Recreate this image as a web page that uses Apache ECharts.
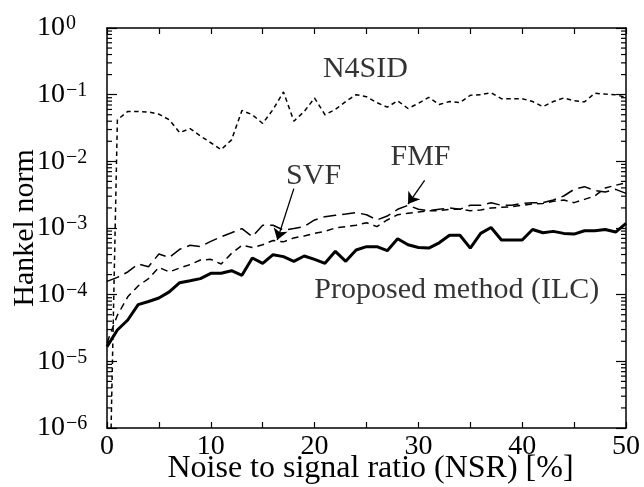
<!DOCTYPE html>
<html><head><meta charset="utf-8">
<script src="https://cdn.jsdelivr.net/npm/echarts@6/dist/echarts.min.js"></script>
<style>html,body{margin:0;padding:0;background:#fff}#c{width:644px;height:487px}</style>
</head><body><div id="c"></div>
<script>
// ---- data ----
const nsr = [0,1,2,3,4,5,6,7,8,9,10,11,12,13,14,15,16,17,18,19,20,21,22,23,24,25,26,27,28,29,30,31,32,33,34,35,36,37,38,39,40,41,42,43,44,45,46,47,48,49,50];
const n4sid = [1e-9, 4.2e-2, 5.6e-2, 5.6e-2, 5.5e-2, 5.1e-2, 4.2e-2, 2.7e-2, 3.1e-2, 2.4e-2,
  1.9e-2, 1.5e-2, 2.1e-2, 5.8e-2, 5.0e-2, 3.7e-2, 6.0e-2, 1.1e-1, 4.0e-2, 5.6e-2,
  8.9e-2, 5.0e-2, 6.0e-2, 7.9e-2, 1.0e-1, 9.3e-2, 7.6e-2, 6.5e-2, 8.1e-2, 6.2e-2,
  7.4e-2, 9.1e-2, 7.1e-2, 7.9e-2, 7.6e-2, 9.8e-2, 1.0e-1, 1.07e-1, 8.7e-2, 8.7e-2,
  8.7e-2, 7.9e-2, 6.6e-2, 7.9e-2, 8.9e-2, 8.1e-2, 7.8e-2, 1.05e-1, 1.02e-1, 1.0e-1,
  9.1e-2];
const svf = [1.9e-5, 4.9e-5, 9.3e-5, 1.35e-4, 1.74e-4, 2.57e-4, 2.19e-4, 2.51e-4, 2.82e-4, 3.31e-4,
  3.39e-4, 2.88e-4, 4.17e-4, 5.5e-4, 5.1e-4, 5.6e-4, 6.5e-4, 6.2e-4, 7.1e-4, 7.6e-4,
  8.3e-4, 8.9e-4, 1.0e-3, 1.05e-3, 1.10e-3, 1.20e-3, 1.05e-3, 1.32e-3, 1.58e-3, 1.66e-3,
  1.74e-3, 1.82e-3, 1.82e-3, 1.91e-3, 1.91e-3, 1.82e-3, 1.86e-3, 2.0e-3, 2.04e-3, 2.09e-3,
  2.19e-3, 2.29e-3, 2.34e-3, 2.51e-3, 2.63e-3, 2.40e-3, 2.69e-3, 3.02e-3, 3.98e-3, 4.37e-3,
  4.79e-3];
const fmf = [1.58e-4, 1.82e-4, 2.19e-4, 2.88e-4, 2.63e-4, 4.07e-4, 3.63e-4, 4.79e-4, 5.5e-4, 5.25e-4,
  6.3e-4, 7.4e-4, 8.5e-4, 9.8e-4, 7.4e-4, 1.10e-3, 1.10e-3, 9.3e-4, 9.8e-4, 1.05e-3,
  1.32e-3, 1.48e-3, 1.55e-3, 1.62e-3, 1.70e-3, 1.58e-3, 1.32e-3, 1.51e-3, 1.91e-3, 2.19e-3,
  1.91e-3, 1.82e-3, 1.91e-3, 2.0e-3, 1.91e-3, 2.19e-3, 2.19e-3, 2.40e-3, 2.19e-3, 2.19e-3,
  2.34e-3, 2.40e-3, 2.40e-3, 2.63e-3, 3.02e-3, 3.80e-3, 4.17e-3, 3.63e-3, 3.47e-3, 3.80e-3,
  3.31e-3];
const proposed = [1.66e-5, 2.95e-5, 4.17e-5, 7.1e-5, 7.9e-5, 8.9e-5, 1.10e-4, 1.51e-4, 1.62e-4, 1.74e-4,
  2.09e-4, 2.09e-4, 2.29e-4, 1.95e-4, 3.55e-4, 2.95e-4, 3.98e-4, 3.72e-4, 3.16e-4, 3.80e-4,
  3.39e-4, 2.95e-4, 4.47e-4, 3.16e-4, 4.68e-4, 5.25e-4, 5.25e-4, 4.57e-4, 6.9e-4, 5.6e-4,
  5.1e-4, 5.0e-4, 6.0e-4, 7.8e-4, 7.8e-4, 5.0e-4, 8.3e-4, 1.02e-3, 6.6e-4, 6.6e-4,
  6.6e-4, 9.5e-4, 8.5e-4, 8.9e-4, 8.3e-4, 8.1e-4, 9.1e-4, 9.1e-4, 9.5e-4, 8.7e-4,
  1.17e-3];
const yExponents = [0, -1, -2, -3, -4, -5, -6];
const xLabelValues = [0, 10, 20, 30, 40, 50];
const annotationText = ['N4SID', 'SVF', 'FMF', 'Proposed method (ILC)'];
const annotationX = [24.9, 19.9, 30.2, 33.7];
const annotationY = [0.24, 5.9e-3, 1.17e-2, 1.18e-4];
const arrowFrom = [[18.0, 3.9e-3], [30.6, 5.2e-3]];
const arrowTo = [[16.4, 6.6e-4], [29.0, 2.29e-3]];

// minor tick values of the log axis (2..9 in each decade)
const minorTicks = [];
for (let e = -6; e < 0; e++) for (let m = 2; m <= 9; m++) minorTicks.push(m * Math.pow(10, e));

const FONT = 'Liberation Serif';
const black = '#000';
const pair = arr => nsr.map((x, i) => [x, arr[i]]);

const axisLineStyle = { show: true, onZero: false, lineStyle: { color: black, width: 1.5 } };

const chart = echarts.init(document.getElementById('c'), null, { renderer: 'canvas' });
chart.setOption({
  backgroundColor: '#fff',
  animation: false,
  grid: { left: 107, right: 18, top: 28, bottom: 59, containLabel: false, outerBoundsMode: 'none' },
  xAxis: [{
    type: 'value', min: 0, max: 50, interval: 5, position: 'bottom',
    axisLine: axisLineStyle,
    axisTick: { inside: true, length: 6, lineStyle: { color: black, width: 1.2 } },
    axisLabel: {
      margin: 5, color: black, fontFamily: FONT, fontSize: 28,
      formatter: v => xLabelValues.indexOf(v) >= 0 ? String(v) : ''
    },
    splitLine: { show: false },
    name: 'Noise to signal ratio (NSR) [%]', nameLocation: 'middle', nameGap: 25,
    nameMoveOverlap: false,
    nameTextStyle: { color: black, fontFamily: FONT, fontSize: 32, padding: [0, 0, 0, 8] }
  }, {
    type: 'value', min: 0, max: 50, interval: 5, position: 'top',
    axisLine: axisLineStyle,
    axisTick: { inside: true, length: 6, lineStyle: { color: black, width: 1.2 } },
    axisLabel: { show: false }, splitLine: { show: false }
  }],
  yAxis: [{
    type: 'log', logBase: 10, min: 1e-6, max: 1, splitNumber: 6, position: 'left',
    axisLine: axisLineStyle,
    axisTick: { inside: true, length: 10, lineStyle: { color: black, width: 1.2 } },
    axisLabel: {
      margin: 70, align: 'left',
      formatter: v => {
        const e = Math.round(Math.log10(v));
        if (yExponents.indexOf(e) < 0) return '';
        return '{b|10}{s|' + (e === 0 ? '0' : '\u2212' + (-e)) + '}';
      },
      rich: {
        b: { fontFamily: FONT, fontSize: 28, lineHeight: 28, color: black, verticalAlign: 'bottom' },
        s: { fontFamily: FONT, fontSize: 20, lineHeight: 20, color: black, verticalAlign: 'top', padding: [0, 0, 16, 1] }
      }
    },
    splitLine: { show: false },
    name: 'Hankel norm', nameLocation: 'middle', nameGap: 67,
    nameMoveOverlap: false,
    nameTextStyle: { color: black, fontFamily: FONT, fontSize: 30 }
  }, {
    type: 'log', logBase: 10, min: 1e-6, max: 1, splitNumber: 6, position: 'right',
    axisLine: axisLineStyle,
    axisTick: { inside: true, length: 10, lineStyle: { color: black, width: 1.2 } },
    axisLabel: { show: false }, splitLine: { show: false }
  }],
  series: [
    { name: 'N4SID', type: 'line', data: pair(n4sid), showSymbol: false, symbol: 'none',
      lineStyle: { color: black, width: 1.5, type: [4.5, 3.5] }, clip: true, z: 3 },
    { name: 'SVF', type: 'line', data: pair(svf), showSymbol: false, symbol: 'none',
      lineStyle: { color: black, width: 1.5, type: [7, 5] }, clip: true, z: 3 },
    { name: 'FMF', type: 'line', data: pair(fmf), showSymbol: false, symbol: 'none',
      lineStyle: { color: black, width: 1.5, type: [13, 6] }, clip: true, z: 3 },
    { name: 'Proposed method (ILC)', type: 'line', data: pair(proposed), showSymbol: false, symbol: 'none',
      lineStyle: { color: black, width: 3 }, clip: true, z: 4 },
    { name: 'arrows', type: 'lines', coordinateSystem: 'cartesian2d', silent: true,
      data: arrowFrom.map((f, i) => ({ coords: [f, arrowTo[i]] })),
      symbol: ['none', 'arrow'], symbolSize: [0, 11],
      lineStyle: { color: black, width: 1.3, opacity: 1 }, z: 5 },
    { name: 'labels', type: 'scatter', silent: true, symbolSize: 0,
      data: annotationText.map((t, i) => [annotationX[i], annotationY[i], t]),
      label: { show: true, position: 'inside', formatter: p => p.value[2],
        fontFamily: FONT, fontSize: 30, color: black, textBorderWidth: 0 }, z: 6 },
    { name: 'minorTicks', type: 'custom', silent: true, clip: false,
      data: minorTicks.map(v => [0, v]),
      encode: { x: 0, y: 1 },
      renderItem: (params, api) => {
        const v = api.value(1);
        const l = api.coord([0, v]);
        const r = api.coord([50, v]);
        const st = { stroke: black, lineWidth: 1.2 };
        return { type: 'group', children: [
          { type: 'line', shape: { x1: l[0], y1: l[1], x2: l[0] + 5, y2: l[1] }, style: st },
          { type: 'line', shape: { x1: r[0] - 5, y1: r[1], x2: r[0], y2: r[1] }, style: st }
        ] };
      }, z: 2 }
  ]
});
</script>
</body></html>
